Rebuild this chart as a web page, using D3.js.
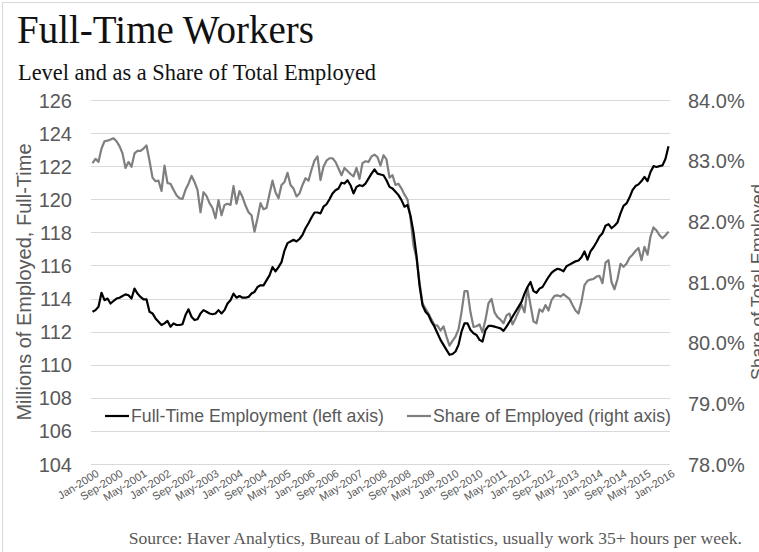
<!DOCTYPE html>
<html>
<head>
<meta charset="utf-8">
<script src="https://cdn.jsdelivr.net/npm/d3@7"></script>
<style>
  html, body { margin: 0; padding: 0; background: #fff; }
  svg { display: block; }
</style>
</head>
<body>
<svg id="chart" width="759" height="552"></svg>
<script>
// ---------- DATA ----------
const startMonth = "2000-01";
const monthCount = 193; // Jan-2000 .. Jan-2016
const tickLabels = ["Jan-2000","Sep-2000","May-2001","Jan-2002","Sep-2002","May-2003","Jan-2004","Sep-2004","May-2005","Jan-2006","Sep-2006","May-2007","Jan-2008","Sep-2008","May-2009","Jan-2010","Sep-2010","May-2011","Jan-2012","Sep-2012","May-2013","Jan-2014","Sep-2014","May-2015","Jan-2016"];
const leftTicks = [104,106,108,110,112,114,116,118,120,122,124,126];
const rightTicks = [78,79,80,81,82,83,84];

// Full-time employment, millions (left axis)
const fullTime = [
  113.2,113.3,113.5,114.35,113.9,114.0,113.7,113.85,114.0,114.05,114.15,114.25,
  114.2,114.0,114.6,114.3,114.1,113.95,113.95,113.2,113.1,112.8,112.6,112.4,
  112.5,112.65,112.3,112.5,112.4,112.4,112.45,113.0,113.35,112.9,112.7,112.75,
  113.1,113.3,113.2,113.1,113.05,113.1,113.3,113.1,113.3,113.7,113.9,114.3,
  114.05,114.15,114.05,114.05,114.1,114.3,114.4,114.7,114.8,114.8,115.1,115.4,
  115.9,115.65,115.9,116.2,116.9,117.35,117.45,117.55,117.45,117.6,117.85,118.25,
  118.55,118.9,119.2,119.2,119.15,119.55,119.7,120.0,120.35,120.55,120.65,121.0,
  120.95,121.15,120.85,120.35,120.75,120.85,120.8,120.95,121.25,121.55,121.8,121.55,
  121.5,121.45,121.15,120.75,120.65,120.45,120.25,119.95,119.55,119.65,119.0,118.0,
  116.6,114.8,113.6,113.2,113.0,112.6,112.3,111.9,111.5,111.2,110.9,110.6,
  110.65,110.8,111.2,112.0,112.5,112.5,112.1,111.9,111.8,111.5,111.4,112.1,
  112.35,112.35,112.3,112.25,112.2,112.05,112.3,112.6,112.9,113.2,113.5,113.8,
  114.3,114.7,115.0,114.45,114.35,114.6,114.7,115.0,115.3,115.55,115.7,115.8,
  115.75,115.65,115.95,116.05,116.15,116.25,116.3,116.5,116.85,116.35,116.85,117.1,
  117.4,117.75,117.95,118.4,118.5,118.25,118.4,118.6,119.15,119.6,119.75,120.1,
  120.55,120.8,120.9,121.1,121.35,121.1,121.65,122.0,121.95,122.0,122.05,122.45,
  123.2
];

// Full-time share of total employed, % (right axis)
const shareEmployed = [
  82.96,83.03,82.98,83.2,83.32,83.33,83.35,83.37,83.32,83.24,83.12,82.88,
  82.98,82.9,83.12,83.16,83.16,83.2,83.25,83.0,82.72,82.66,82.67,82.5,
  82.92,82.63,82.62,82.52,82.43,82.38,82.37,82.52,82.62,82.75,82.65,82.52,
  82.15,82.48,82.42,82.3,82.22,82.05,82.35,82.1,82.27,82.29,82.27,82.58,
  82.29,82.5,82.4,82.26,82.15,82.1,81.83,82.05,82.3,82.2,82.22,82.45,
  82.67,82.48,82.38,82.6,82.65,82.8,82.6,82.54,82.41,82.46,82.6,82.71,
  82.67,82.85,83.0,83.07,82.68,82.9,83.0,83.04,83.04,82.98,82.87,82.76,
  82.88,82.83,82.78,82.74,82.88,82.7,82.96,82.99,82.98,83.07,83.1,83.06,
  82.92,83.09,83.02,82.72,82.76,82.6,82.62,82.54,82.44,82.36,82.05,81.6,
  81.39,81.0,80.65,80.56,80.48,80.38,80.29,80.28,80.2,80.27,80.1,79.95,
  80.03,80.1,80.22,80.5,80.85,80.85,80.5,80.26,80.27,80.3,80.17,80.38,
  80.65,80.72,80.5,80.42,80.38,80.32,80.45,80.48,80.3,80.4,80.51,80.63,
  80.5,80.9,80.62,80.35,80.32,80.55,80.51,80.62,80.53,80.7,80.77,80.78,
  80.76,80.8,80.76,80.72,80.62,80.53,80.48,80.68,80.95,81.02,81.04,81.05,
  81.09,81.1,80.98,81.32,81.36,81.0,80.88,81.05,81.3,81.25,81.3,81.4,
  81.45,81.51,81.56,81.36,81.58,81.45,81.75,81.9,81.85,81.77,81.72,81.77,
  81.83
];

const seriesNames = ["Full-Time Employment (left axis)", "Share of Employed (right axis)"];

// ---------- CHART ----------
const svg = d3.select("#chart");
const W = 759, H = 552;
const plot = { left: 91, right: 670, top: 100, bottom: 464 };
const axisColor = "#595959";
const gridColor = "#d9d9d9";

const fmt = d3.timeFormat("%b-%Y");
const start = d3.timeParse("%Y-%m")(startMonth);
const months = d3.range(monthCount).map(i => fmt(d3.timeMonth.offset(start, i)));

const x = d3.scaleBand().domain(months).range([plot.left, plot.right]).paddingInner(0).paddingOuter(0);
const xc = d => x(d) + x.bandwidth() / 2;
const yL = d3.scaleLinear().domain([104, 126]).range([plot.bottom, plot.top]);
const yR = d3.scaleLinear().domain([78, 84]).range([plot.bottom, plot.top]);

// frame
svg.append("rect").attr("x", 2.5).attr("y", 2.5).attr("width", W + 10).attr("height", H + 10)
  .attr("fill", "#fff").attr("stroke", "#d9d9d9").attr("stroke-width", 1);

// title
svg.append("text").attr("x", 17).attr("y", 43)
  .attr("font-family", "'Liberation Serif','Times New Roman',serif").attr("font-size", 39)
  .attr("fill", "#111").text("Full-Time Workers");
svg.append("text").attr("x", 18).attr("y", 80)
  .attr("font-family", "'Liberation Serif','Times New Roman',serif").attr("font-size", 22.4)
  .attr("fill", "#111").text("Level and as a Share of Total Employed");

// gridlines
svg.append("g").selectAll("line").data(leftTicks).join("line")
  .attr("x1", plot.left).attr("x2", plot.right)
  .attr("y1", d => Math.round(yL(d)) + 0.5).attr("y2", d => Math.round(yL(d)) + 0.5)
  .attr("stroke", gridColor).attr("stroke-width", 1);

// left axis
const leftAxis = d3.axisLeft(yL).tickValues(leftTicks).tickSize(0).tickPadding(0).tickFormat(d3.format("d"));
const gL = svg.append("g").attr("transform", `translate(${plot.left - 19},0)`).call(leftAxis);
gL.select(".domain").remove();
gL.selectAll("text").attr("font-family", "'Liberation Sans',Arial,sans-serif").attr("font-size", 20)
  .attr("fill", axisColor).attr("dy", "0.35em");

// right axis
const rightAxis = d3.axisRight(yR).tickValues(rightTicks).tickSize(0).tickPadding(0).tickFormat(d => d3.format(".1f")(d) + "%");
const gR = svg.append("g").attr("transform", `translate(${plot.right + 18},0)`).call(rightAxis);
gR.select(".domain").remove();
gR.selectAll("text").attr("font-family", "'Liberation Sans',Arial,sans-serif").attr("font-size", 20)
  .attr("fill", axisColor).attr("dy", "0.35em");

// x axis (labels every 8 months)
const xAxis = d3.axisBottom(x).tickValues(tickLabels).tickSize(0).tickPadding(0);
const gX = svg.append("g").attr("transform", `translate(${x.bandwidth() / 2},${plot.bottom + 6})`).call(xAxis);
gX.select(".domain").remove();
gX.selectAll("text")
  .attr("font-family", "'Liberation Sans',Arial,sans-serif").attr("font-size", 11)
  .attr("fill", axisColor).attr("text-anchor", "end")
  .attr("dy", "0.7em").attr("y", 0).attr("x", 2)
  .attr("transform", "rotate(-32)");

// axis titles
svg.append("text").attr("transform", `translate(31,282) rotate(-90)`)
  .attr("text-anchor", "middle").attr("font-family", "'Liberation Sans',Arial,sans-serif")
  .attr("font-size", 20).attr("fill", axisColor).text("Millions of Employed, Full-Time");
svg.append("text").attr("transform", `translate(764,282) rotate(-90)`)
  .attr("text-anchor", "middle").attr("font-family", "'Liberation Sans',Arial,sans-serif")
  .attr("font-size", 18).attr("fill", axisColor).text("Share of Total Employed");

// lines
const lineL = d3.line().x((d, i) => xc(months[i])).y(d => yL(d));
const lineR = d3.line().x((d, i) => xc(months[i])).y(d => yR(d));
svg.append("path").datum(shareEmployed).attr("d", lineR).attr("fill", "none")
  .attr("stroke", "#7f7f7f").attr("stroke-width", 2.2).attr("stroke-linejoin", "round");
svg.append("path").datum(fullTime).attr("d", lineL).attr("fill", "none")
  .attr("stroke", "#000").attr("stroke-width", 2.2).attr("stroke-linejoin", "round");

// legend
const legend = [
  { name: seriesNames[0], color: "#000", x: 105 },
  { name: seriesNames[1], color: "#7f7f7f", x: 407 }
];
const lg = svg.append("g").selectAll("g").data(legend).join("g")
  .attr("transform", d => `translate(${d.x},416)`);
lg.append("line").attr("x1", 0).attr("x2", 24).attr("y1", 0).attr("y2", 0)
  .attr("stroke", d => d.color).attr("stroke-width", 2.2);
lg.append("text").attr("x", 26).attr("dy", "0.35em")
  .attr("font-family", "'Liberation Sans',Arial,sans-serif").attr("font-size", 17.7)
  .attr("fill", axisColor).text(d => d.name);

// source
svg.append("text").attr("x", 742).attr("y", 544).attr("text-anchor", "end")
  .attr("font-family", "'Liberation Serif','Times New Roman',serif").attr("font-size", 17.6)
  .attr("fill", "#595959")
  .text("Source: Haver Analytics, Bureau of Labor Statistics, usually work 35+ hours per week.");
</script>
</body>
</html>
